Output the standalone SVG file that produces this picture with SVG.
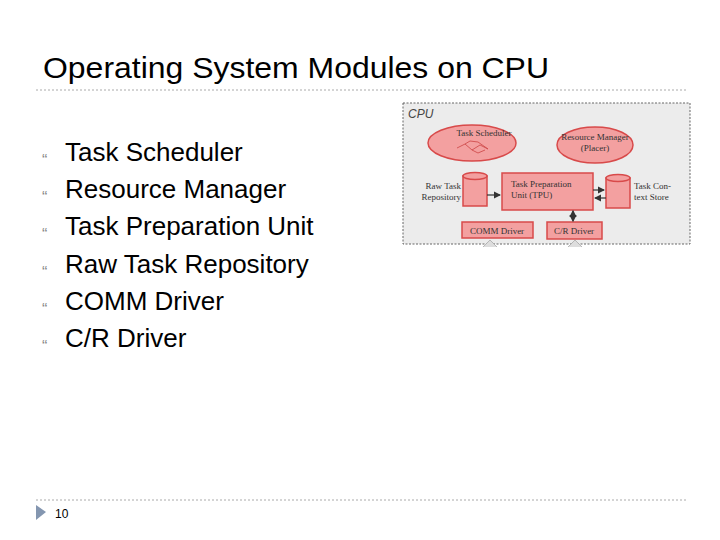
<svg xmlns="http://www.w3.org/2000/svg" width="720" height="540" viewBox="0 0 720 540">
<style>
.t{font-family:"Liberation Sans",Arial,sans-serif;fill:#000}
.b{font-family:"Liberation Sans",Arial,sans-serif;fill:#888;font-size:16px}
.s{font-family:"Liberation Serif","Times New Roman",serif;font-size:9px;fill:#333}
.r{fill:#f3a0a0;stroke:#d84a4a;stroke-width:1.5}
.a{stroke:#333;stroke-width:1.2;fill:none}
</style>
<defs><marker id="m" markerWidth="6" markerHeight="6" refX="5" refY="3" orient="auto-start-reverse"><path d="M0,0L6,3L0,6z" fill="#333"/></marker></defs>
<rect width="720" height="540" fill="#fff"/>
<text class="t" x="43" y="78" font-size="29" textLength="506" lengthAdjust="spacingAndGlyphs" fill="#333">Operating System Modules on CPU</text>
<line x1="36" y1="90" x2="686" y2="90" stroke="#aaa" stroke-dasharray="2,2"/>
<g id="bullets">
<text class="b" x="42" y="166">“</text><text class="t" x="65" y="161" font-size="26">Task Scheduler</text>
<text class="b" x="42" y="203">“</text><text class="t" x="65" y="198" font-size="26">Resource Manager</text>
<text class="b" x="42" y="240">“</text><text class="t" x="65" y="235" font-size="26">Task Preparation Unit</text>
<text class="b" x="42" y="278">“</text><text class="t" x="65" y="273" font-size="26">Raw Task Repository</text>
<text class="b" x="42" y="315">“</text><text class="t" x="65" y="310" font-size="26">COMM Driver</text>
<text class="b" x="42" y="352">“</text><text class="t" x="65" y="347" font-size="26">C/R Driver</text>
</g>
<g id="cpu">
<rect x="403" y="103" width="287" height="141" fill="#ececec" stroke="#666" stroke-dasharray="2,1.5"/>
<text x="408" y="118" font-family="Liberation Sans,Arial,sans-serif" font-style="italic" font-size="12" fill="#444">CPU</text>
</g>
<g id="sched"><ellipse class="r" cx="472" cy="143" rx="44" ry="18"/><text class="s" x="484" y="136" text-anchor="middle">Task Scheduler</text>
<path d="M457,148L465,144L472,150L480,145L488,149M465,144L470,141L478,142L488,149M472,150L478,153L485,150" stroke="#c44" fill="none" stroke-width="0.8"/></g>
<g id="resmgr"><ellipse class="r" cx="595" cy="145" rx="38" ry="18"/><text class="s" x="595" y="140" text-anchor="middle">Resource Manager</text><text class="s" x="595" y="151" text-anchor="middle">(Placer)</text></g>
<g id="raw"><rect x="463" y="176" width="24" height="30" class="r"/><ellipse cx="475" cy="176" rx="12" ry="3.5" class="r"/>
<text class="s" x="461" y="189" text-anchor="end">Raw Task</text><text class="s" x="461" y="200" text-anchor="end">Repository</text></g>
<g id="tpu"><rect x="502" y="173" width="91" height="37" class="r"/><text class="s" x="511" y="187">Task Preparation</text><text class="s" x="511" y="198">Unit (TPU)</text></g>
<g id="ctx"><rect x="606" y="178" width="24" height="30" class="r"/><ellipse cx="618" cy="178" rx="12" ry="3.5" class="r"/>
<text class="s" x="634" y="189">Task Con-</text><text class="s" x="634" y="200">text Store</text></g>
<g id="comm"><rect x="462" y="222" width="71" height="16" class="r"/><text class="s" x="497" y="234" text-anchor="middle">COMM Driver</text></g>
<g id="cr"><rect x="547" y="222" width="55" height="17" class="r"/><text class="s" x="574" y="234" text-anchor="middle">C/R Driver</text></g>
<path d="M483,247L490,240L497,247M568,247L575,240L582,247" fill="#ddd" stroke="#aaa" stroke-width="0.8"/>
<g id="connectors">
<line class="a" x1="487" y1="195" x2="500" y2="195" marker-end="url(#m)"/>
<line class="a" x1="593" y1="190" x2="604" y2="190" marker-end="url(#m)"/>
<line class="a" x1="606" y1="198" x2="595" y2="198" marker-end="url(#m)"/>
<line class="a" x1="573" y1="211" x2="573" y2="221" marker-end="url(#m)" marker-start="url(#m)"/>
</g>
<line x1="36" y1="500" x2="686" y2="500" stroke="#aaa" stroke-dasharray="2,2"/>
<path d="M36,505L46,512L36,520z" fill="#8496b0"/>
<text class="t" x="55" y="518" font-size="12" fill="#555">10</text>
</svg>
